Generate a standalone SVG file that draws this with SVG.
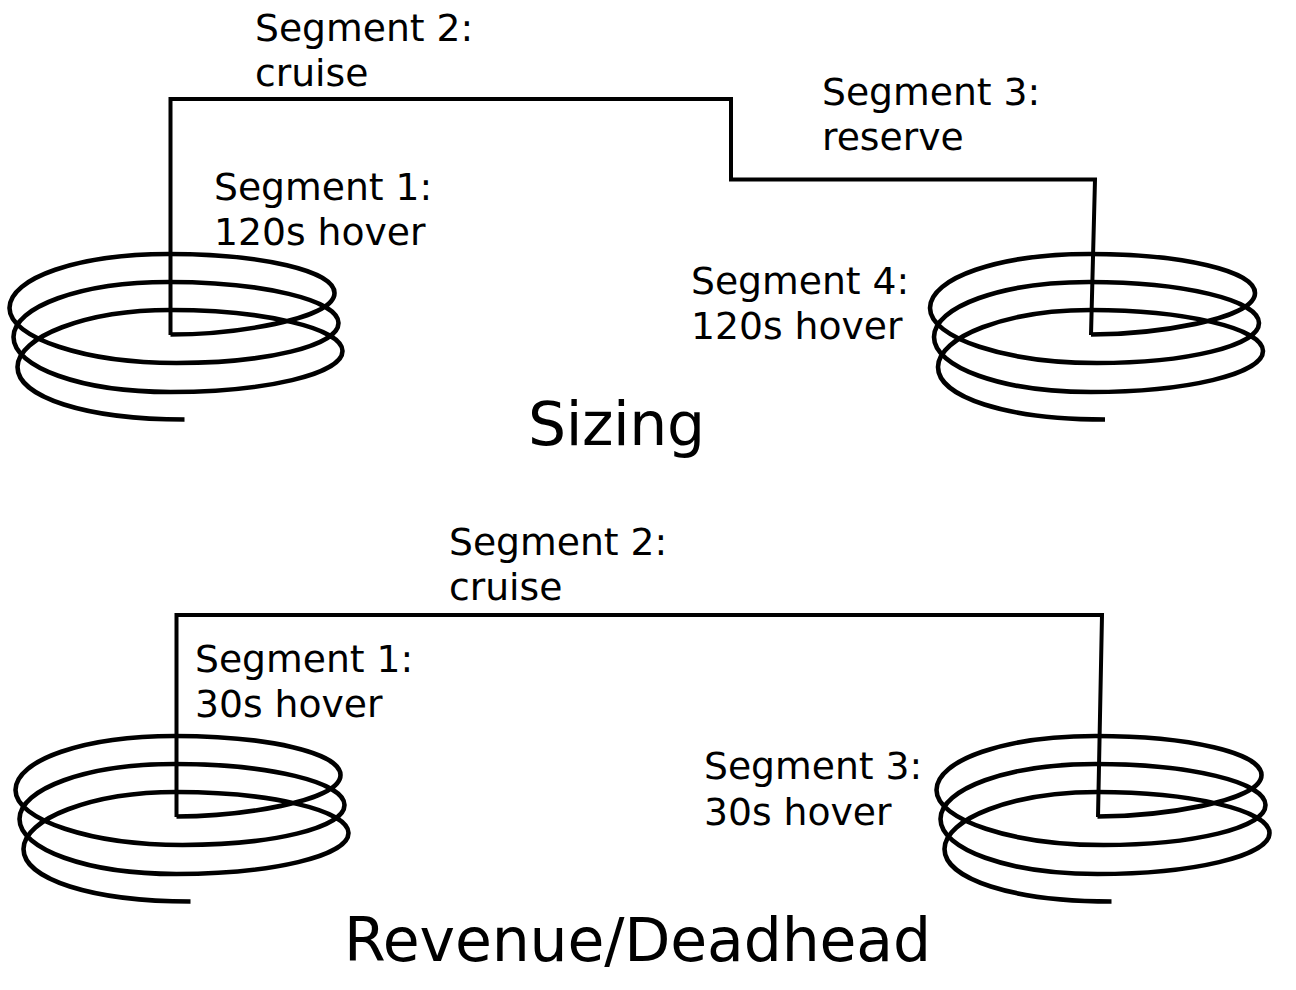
<svg xmlns="http://www.w3.org/2000/svg" width="1296" height="990" viewBox="0 0 1296 990">
<style>
.w{fill:none;stroke:#000;stroke-width:4}
.c{fill:none;stroke:#000;stroke-width:4.6}
.l{font-family:"DejaVu Sans",sans-serif;font-size:37.7px;fill:#000}
.t{font-family:"DejaVu Sans",sans-serif;font-size:60px;fill:#000}
</style>
<defs>
<path id="coil" d="M0 80.500 C60 80.500 164 66 164 39 C164 17 92 0 -2 0 C-92 0 -161 24 -161 54 C-161 84 -85 109 6 109 C95 109 168 92 168 69 C168 46 92 28 -2 28 C-90 28 -157 53 -157 83 C-157 113 -90 138 0 138 C95 138 172 120 172 97 C172 74 92 56 0 56 C-85 56 -153 83 -153 113 C-153 143 -85 165.500 14 165.500"/>
</defs>
<g id="connectors">
<path class="w" d="M170.500 335 V99 H731 V179.500 H1095 L1091 335"/>
<path class="w" d="M176.500 817 V615 H1102 L1098 817"/>
</g>
<g id="coil1"><use href="#coil" class="c" x="170.500" y="254"/></g>
<g id="coil2"><use href="#coil" class="c" x="1091" y="254"/></g>
<g id="coil3"><use href="#coil" class="c" x="176.500" y="736"/></g>
<g id="coil4"><use href="#coil" class="c" x="1097.500" y="736"/></g>
<g id="labels">
<text class="l" x="255" y="41">Segment 2:</text><text class="l" x="255" y="86">cruise</text>
<text class="l" x="822" y="105">Segment 3:</text><text class="l" x="822" y="150">reserve</text>
<text class="l" x="214" y="200">Segment 1:</text><text class="l" x="214" y="245">120s hover</text>
<text class="l" x="691" y="294">Segment 4:</text><text class="l" x="691" y="339">120s hover</text>
<text class="t" x="528" y="445" textLength="177">Sizing</text>
<text class="l" x="449" y="555">Segment 2:</text><text class="l" x="449" y="600">cruise</text>
<text class="l" x="195" y="672">Segment 1:</text><text class="l" x="195" y="717">30s hover</text>
<text class="l" x="704" y="779">Segment 3:</text><text class="l" x="704" y="825">30s hover</text>
<text class="t" x="344" y="961" textLength="587">Revenue/Deadhead</text>
</g>
</svg>
